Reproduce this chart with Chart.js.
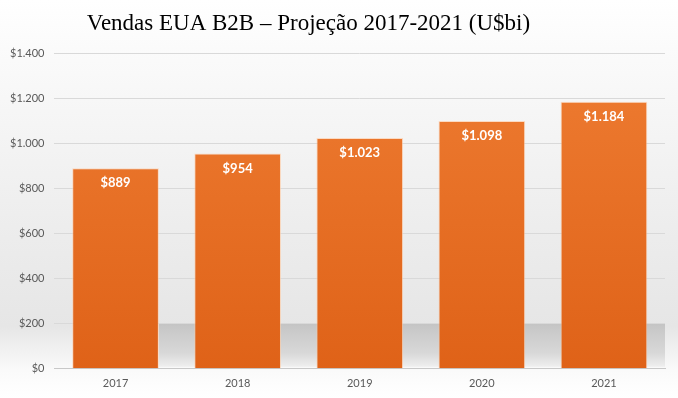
<!DOCTYPE html>
<html>
<head>
<meta charset="utf-8">
<script src="https://cdn.jsdelivr.net/npm/chart.js@4/dist/chart.umd.min.js"></script>
<style>
  html, body { margin: 0; padding: 0; background: #fff; }
  #wrap { width: 678px; height: 398px; }
</style>
</head>
<body>
<div id="wrap"><canvas id="chart"></canvas></div>
<script>
const years = ["2017", "2018", "2019", "2020", "2021"];
const sales = [889, 954, 1023, 1098, 1184];
const chartTitle = "Vendas EUA B2B – Projeção 2017-2021 (U$bi)";

// thousands with a dot, like the source ($1.400)
const money = (v) => "$" + v.toString().replace(/\B(?=(\d{3})+(?!\d))/g, ".");

const backdrop = {
  id: "backdrop",
  beforeDraw(chart) {
    const { ctx, width, height, chartArea, scales } = chart;
    ctx.save();
    const g = ctx.createLinearGradient(0, 0, 0, height);
    g.addColorStop(0, "#ffffff");
    g.addColorStop(0.12, "#fbfbfb");
    g.addColorStop(0.6, "#ececec");
    g.addColorStop(0.82, "#e6e6e6");
    g.addColorStop(0.93, "#fafafa");
    g.addColorStop(1, "#ffffff");
    ctx.fillStyle = g;
    ctx.fillRect(0, 0, width, height);

    // grey shadow band behind the bars
    const bars = chart.getDatasetMeta(0).data;
    const top = scales.y.getPixelForValue(200);
    const bottom = scales.y.getPixelForValue(0);
    const s = ctx.createLinearGradient(0, top, 0, bottom);
    s.addColorStop(0, "#c4c4c4");
    s.addColorStop(0.2, "#cbcbcb");
    s.addColorStop(0.65, "#d8d8d8");
    s.addColorStop(1, "#f2f2f2");
    ctx.fillStyle = s;
    const x0 = bars[0].x + bars[0].width / 2;
    ctx.fillRect(x0, top, chartArea.right - x0, bottom - top - 2);
    ctx.restore();
  },
  afterDraw(chart) {
    const { ctx } = chart;
    ctx.save();
    ctx.font = "23px 'Liberation Serif', serif";
    ctx.fillStyle = "#000";
    ctx.textAlign = "center";
    ctx.textBaseline = "middle";
    ctx.fillText(chartTitle, chart.width * 0.455, 24);

    // value labels inside the bars
    ctx.font = "bold 13px Lato, sans-serif";
    ctx.fillStyle = "#ffffff";
    chart.getDatasetMeta(0).data.forEach((bar, i) => {
      ctx.fillText(money(sales[i]), bar.x, bar.y + 15);
    });
    ctx.restore();
  },
};

new Chart(document.getElementById("chart"), {
  type: "bar",
  data: {
    labels: years,
    datasets: [
      {
        data: sales,
        backgroundColor: (c) => {
          const area = c.chart.chartArea;
          if (!area) return "#EC7A2E";
          const g = c.chart.ctx.createLinearGradient(0, area.top, 0, area.bottom);
          g.addColorStop(0, "#EE7C32");
          g.addColorStop(1, "#DF6218");
          return g;
        },
        borderColor: "rgba(255,200,160,0.6)",
        borderWidth: 1,
        barPercentage: 0.71,
        categoryPercentage: 1,
      },
    ],
  },
  options: {
    responsive: true,
    maintainAspectRatio: false,
    animation: false,
    layout: { padding: { top: 53, right: 13, bottom: 0, left: 0 } },
    plugins: {
      legend: { display: false },
      tooltip: { enabled: false },
    },
    scales: {
      x: {
        grid: { display: false, drawTicks: false },
        border: { color: "#c8c8c8", width: 1 },
        ticks: { color: "#595959", font: { family: "Lato", size: 11 }, padding: 8 },
      },
      y: {
        min: 0,
        max: 1400,
        ticks: {
          stepSize: 200,
          color: "#595959",
          font: { family: "Lato", size: 11 },
          padding: 10,
          callback: (v) => money(v),
        },
        grid: { color: "#d9d9d9", drawTicks: false },
        border: { display: false },
      },
    },
  },
  plugins: [backdrop],
});
</script>
</body>
</html>
